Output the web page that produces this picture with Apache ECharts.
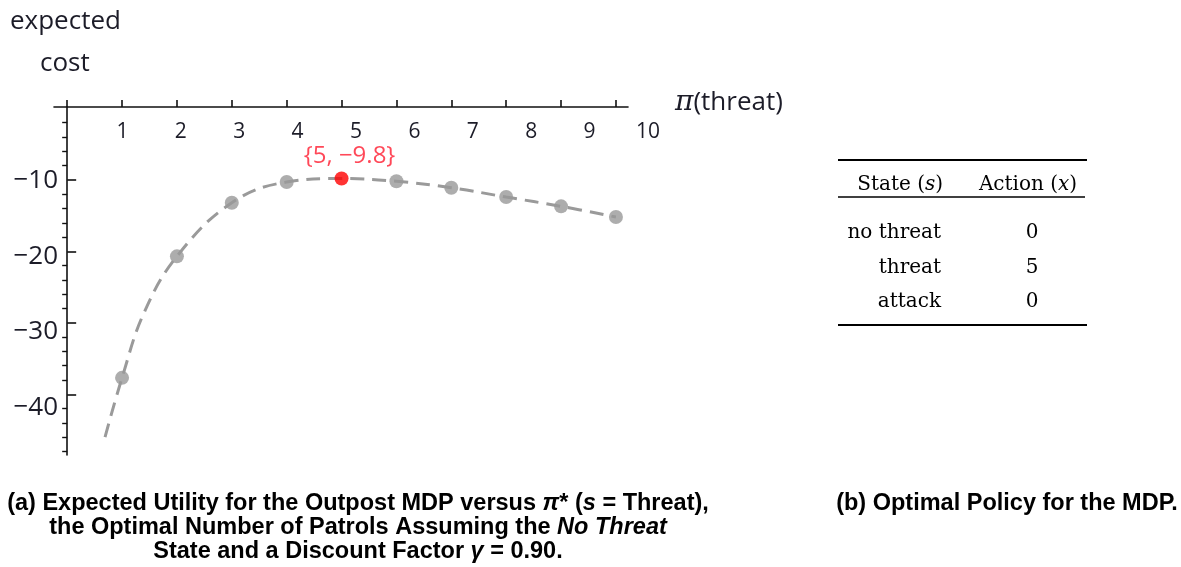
<!DOCTYPE html>
<html>
<head>
<meta charset="utf-8">
<script src="https://cdn.jsdelivr.net/npm/echarts@6.0.0/dist/echarts.min.js"></script>
<style>
  html, body { margin: 0; padding: 0; background: #fff; }
  #chart { width: 1181px; height: 567px; }
</style>
</head>
<body>
<div id="chart"></div>
<script>
// patrols (x) and expected cost at each
var patrols = [1, 2, 3, 4, 5, 6, 7, 8, 9, 10];
var cost = [-37.7, -20.7, -13.2, -10.3, -9.8, -10.2, -11.1, -12.4, -13.7, -15.2];
var bestIdx = 4;
// dashed curve
var curveX = [0.69, 1, 1.4, 2, 3, 4, 5, 6, 7, 8, 9, 10];
var curveY = [-46.0, -37.7, -28.6, -20.7, -13.2, -10.3, -9.8, -10.2, -11.1, -12.4, -13.7, -15.2];
// ticks
var xTicks = [0, 1, 2, 3, 4, 5, 6, 7, 8, 9, 10];
var xLabels = [1, 2, 3, 4, 5, 6, 7, 8, 9, 10];
var yMajor = [-10, -20, -30, -40];
var yMinor = [-2, -4, -6, -8, -12, -14, -16, -18, -22, -24, -26, -28, -32, -34, -36, -38, -42, -44, -46, -48];
// policy table
var states = ['no threat', 'threat', 'attack'];
var actions = [0, 5, 0];

var ink = '#1c1c28';
var axisFont = 'Open Sans';

var chart = echarts.init(document.getElementById('chart'));

var gray = [], best = [];
patrols.forEach(function (p, i) {
    if (i === bestIdx) best.push([p, cost[i]]);
    else gray.push([p, cost[i]]);
});
var curve = curveX.map(function (x, i) { return [x, curveY[i]]; });

// table pieces
var serif = '20px "DejaVu Serif"';
var serifI = 'italic 20px "DejaVu Serif"';
var tableEls = [
    { type: 'line', shape: { x1: 838, y1: 160, x2: 1087, y2: 160 }, style: { stroke: '#000', lineWidth: 2 } },
    { type: 'line', shape: { x1: 838, y1: 197, x2: 1085, y2: 197 }, style: { stroke: '#000', lineWidth: 1.6 } },
    { type: 'line', shape: { x1: 838, y1: 325, x2: 1087, y2: 325 }, style: { stroke: '#000', lineWidth: 2 } },
    { type: 'text', style: { x: 943, y: 185, align: 'right', verticalAlign: 'middle',
        text: '{a|State (}{i|s}{a|)}',
        rich: { a: { font: serif, fill: '#000' }, i: { font: serifI, fill: '#000' } } } },
    { type: 'text', style: { x: 1028, y: 185, align: 'center', verticalAlign: 'middle',
        text: '{a|Action (}{i|x}{a|)}',
        rich: { a: { font: serif, fill: '#000' }, i: { font: serifI, fill: '#000' } } } }
];
var rowY = [233, 268, 302];
states.forEach(function (s, i) {
    tableEls.push({ type: 'text', style: { x: 941, y: rowY[i], align: 'right', verticalAlign: 'middle',
        text: s, font: serif, fill: '#000' } });
    tableEls.push({ type: 'text', style: { x: 1032, y: rowY[i], align: 'center', verticalAlign: 'middle',
        text: String(actions[i]), font: serif, fill: '#000' } });
});

var capRich = {
    b: { font: 'bold 23.5px "Liberation Sans"', fill: '#000' },
    bi: { font: 'italic bold 23.5px "Liberation Sans"', fill: '#000' }
};
var captions = [
    { type: 'text', style: { x: 358, y: 504, align: 'center', verticalAlign: 'middle', rich: capRich,
        text: '{b|(a) Expected Utility for the Outpost MDP versus }{bi|π}{b|* (}{bi|s}{b| = Threat),}' } },
    { type: 'text', style: { x: 358, y: 528, align: 'center', verticalAlign: 'middle', rich: capRich,
        text: '{b|the Optimal Number of Patrols Assuming the }{bi|No Threat}' } },
    { type: 'text', style: { x: 358, y: 552, align: 'center', verticalAlign: 'middle', rich: capRich,
        text: '{b|State and a Discount Factor }{bi|γ}{b| = 0.90.}' } },
    { type: 'text', style: { x: 1007, y: 504, align: 'center', verticalAlign: 'middle', rich: capRich,
        text: '{b|(b) Optimal Policy for the MDP.}' } }
];

var axisTitles = [
    { type: 'text', style: { x: 10, y: 22, verticalAlign: 'middle', text: 'expected', font: '26px "Open Sans"', fill: ink } },
    { type: 'text', style: { x: 40, y: 64, verticalAlign: 'middle', text: 'cost', font: '26px "Open Sans"', fill: ink } },
    { type: 'text', style: { x: 675, y: 103, verticalAlign: 'middle',
        text: '{i|π}{a|(threat)}',
        rich: { i: { font: 'italic 28px "DejaVu Serif"', fill: ink }, a: { font: '26px "Open Sans"', fill: ink } } } }
];

var option = {
    animation: false,
    backgroundColor: '#fff',
    grid: [
        // drawing area
        { left: 54, top: 107, width: 574, height: 348 },
        // tick label placement (labels sit a bit wider than the ticks)
        { left: 64, top: 105, width: 584, height: 363 }
    ],
    xAxis: [{
        gridIndex: 0,
        type: 'value',
        position: 'top',
        min: -0.24,
        max: 10.22,
        axisLine: { show: true, onZero: false, lineStyle: { color: '#111', width: 1.6 } },
        axisTick: { show: true, length: 7, customValues: xTicks, lineStyle: { color: '#111', width: 1.6 } },
        axisLabel: { show: false },
        splitLine: { show: false }
    }, {
        gridIndex: 1,
        type: 'value',
        position: 'top',
        min: 0,
        max: 10,
        axisLine: { show: false, onZero: false },
        axisTick: { show: false },
        axisLabel: {
            inside: true,
            margin: 17,
            customValues: xLabels,
            fontFamily: axisFont,
            fontSize: 21,
            color: ink,
            formatter: function (v) { return String(v); }
        },
        splitLine: { show: false }
    }],
    yAxis: [{
        gridIndex: 0,
        type: 'value',
        min: -48.5,
        max: 0.2,
        offset: 0,
        axisLine: { show: true, onZero: true, onZeroAxisIndex: 0, lineStyle: { color: '#111', width: 1.6 } },
        axisTick: { show: true, inside: true, length: 9, customValues: yMajor, lineStyle: { color: '#111', width: 1.6 } },
        axisLabel: { show: false },
        splitLine: { show: false }
    }, {
        gridIndex: 0,
        type: 'value',
        min: -48.5,
        max: 0.2,
        offset: 0,
        axisLine: { show: false, onZero: true, onZeroAxisIndex: 0 },
        axisTick: { show: true, inside: true, length: 5, customValues: yMinor, lineStyle: { color: '#111', width: 1.4 } },
        axisLabel: { show: false },
        splitLine: { show: false }
    }, {
        gridIndex: 1,
        type: 'value',
        min: -48,
        max: 0,
        axisLine: { show: false, onZero: false },
        axisTick: { show: false },
        axisLabel: {
            margin: 6,
            customValues: yMajor,
            fontFamily: axisFont,
            fontSize: 26,
            color: ink,
            formatter: function (v) { return '\u2212' + Math.abs(v); }
        },
        splitLine: { show: false }
    }],
    series: [{
        name: 'curve',
        type: 'line',
        xAxisIndex: 0,
        yAxisIndex: 0,
        data: curve,
        smooth: 0.4,
        showSymbol: false,
        lineStyle: { color: '#9a9a9a', width: 3, type: [14, 8] },
        z: 2
    }, {
        name: 'policies',
        type: 'scatter',
        xAxisIndex: 0,
        yAxisIndex: 0,
        data: gray,
        symbolSize: 14,
        itemStyle: { color: '#999999' },
        z: 3
    }, {
        name: 'optimum',
        type: 'scatter',
        xAxisIndex: 0,
        yAxisIndex: 0,
        data: best,
        symbolSize: 14,
        itemStyle: { color: '#ff0000' },
        label: {
            show: true,
            position: 'top',
            distance: 3,
            offset: [8, 0],
            fontFamily: axisFont,
            fontSize: 24,
            color: '#ff1a2e',
            formatter: function (p) {
                return '{' + p.value[0] + ', \u2212' + Math.abs(p.value[1]) + '}';
            }
        },
        z: 4
    }],
    graphic: axisTitles.concat(tableEls, captions)
};

chart.setOption(option);
</script>
</body>
</html>
